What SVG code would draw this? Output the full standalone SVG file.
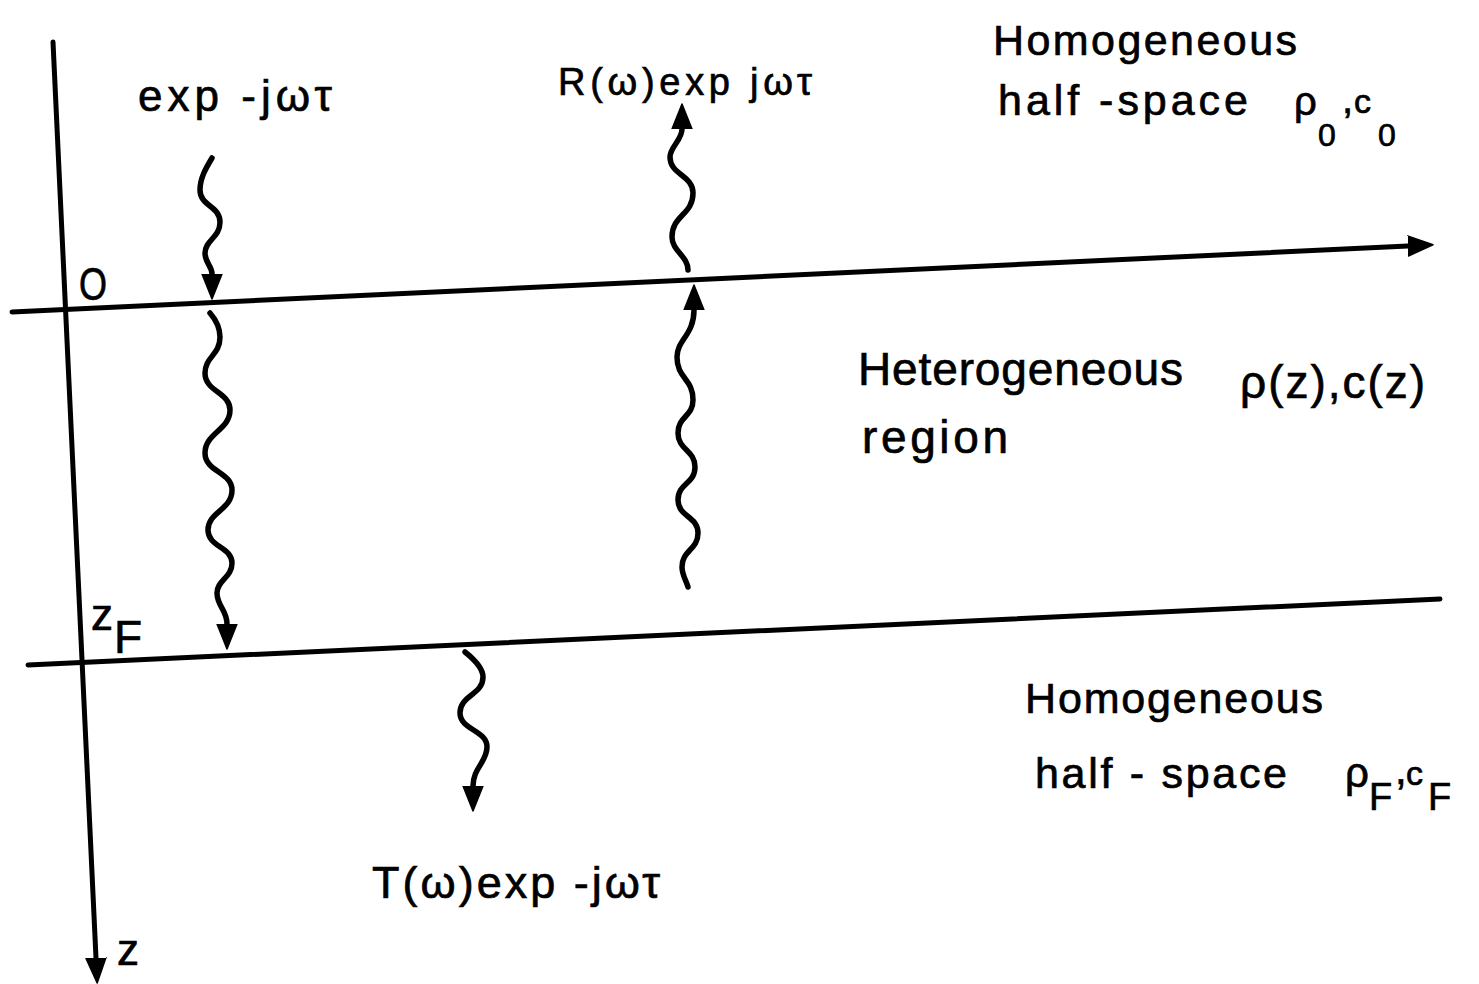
<svg xmlns="http://www.w3.org/2000/svg" width="1479" height="984" viewBox="0 0 1479 984">
  <style>
    .ln { fill: none; stroke: #000; stroke-width: 5; stroke-linecap: round; }
    .wv { fill: none; stroke: #000; stroke-width: 5.5; stroke-linecap: round; stroke-linejoin: round; }
    .t { font-family: "Liberation Sans", Arial, sans-serif; fill: #000; stroke: #000; stroke-width: 0.7; }
  </style>
  <defs>
    <marker id="head" markerUnits="userSpaceOnUse" viewBox="0 -11 26 22" refX="0" refY="0" markerWidth="26" markerHeight="22" orient="auto">
      <path d="M0,-10 L25,0 L0,10 Z" fill="#000" stroke="#000" stroke-width="1.5" stroke-linejoin="round"/>
    </marker>
  </defs>

  <rect width="1479" height="984" fill="#fff"/>

  <!-- axes and interfaces -->
  <g id="connectors">
    <path id="z-axis" class="ln" d="M53,42 L96,958" marker-end="url(#head)"/>
    <path id="interface-0" class="ln" d="M12,312 L1408,246" marker-end="url(#head)"/>
    <path id="interface-zF" class="ln" d="M28,665 L1440,599"/>

    <!-- incident wave above the layer -->
    <path class="wv" d="M212,158 C206,168 200,178 200,190 C200,206 220,206 220,222 C220,238 205,240 205,253 C205,263 212,266 212,274" marker-end="url(#head)"/>
    <!-- incident wave through the layer -->
    <path class="wv" d="M210,313 C216,320 220,328 220,337 C220,355 205,357 205,373 C205,392 230,392 230,410 C230,430 205,433 205,453 C205,472 232,472 232,490 C232,510 208,512 208,530 C208,547 232,547 232,563 C232,578 217,580 217,593 C217,606 227,610 227,624" marker-end="url(#head)"/>
    <!-- reflected wave inside the layer -->
    <path class="wv" d="M688,587 C686,580 682,575 682,567 C682,550 698,550 698,533 C698,516 678,517 678,500 C678,483 695,484 695,467 C695,450 678,450 678,433 C678,416 693,417 693,400 C693,378 677,379 677,357 C677,340 694,335 694,310" marker-end="url(#head)"/>
    <!-- reflected wave above the layer -->
    <path class="wv" d="M688,270 C688,256 672,251 672,237 C672,215 693,215 693,193 C693,175 670,175 670,157 C670,147 682,140 682,129" marker-end="url(#head)"/>
    <!-- transmitted wave -->
    <path class="wv" d="M465,652 C475,660 483,668 483,677 C483,695 460,695 460,713 C460,730 487,730 487,747 C487,762 473,768 473,786" marker-end="url(#head)"/>
  </g>

  <g id="label-incident">
    <text class="t" x="138" y="111" font-size="44" textLength="194" lengthAdjust="spacing">exp -jωτ</text>
  </g>
  <g id="label-reflected">
    <text class="t" x="558" y="95" font-size="38" textLength="254" lengthAdjust="spacing">R(ω)exp jωτ</text>
  </g>
  <g id="label-transmitted">
    <text class="t" x="372" y="898" font-size="45" textLength="288" lengthAdjust="spacing">T(ω)exp -jωτ</text>
  </g>

  <g id="upper-half-space">
    <text class="t" x="993" y="55" font-size="43" textLength="304" lengthAdjust="spacing">Homogeneous</text>
    <text class="t" x="998" y="115" font-size="43" textLength="250" lengthAdjust="spacing">half -space</text>
    <text class="t" font-size="40">
      <tspan x="1294" y="115">ρ</tspan><tspan x="1318" y="146" font-size="32">0</tspan><tspan x="1342" y="113">,</tspan><tspan x="1354" y="113" font-size="34">c</tspan><tspan x="1378" y="146" font-size="32">0</tspan>
    </text>
  </g>

  <g id="layer">
    <text class="t" x="858" y="385" font-size="46" textLength="325" lengthAdjust="spacing">Heterogeneous</text>
    <text class="t" x="862" y="453" font-size="46" textLength="146" lengthAdjust="spacing">region</text>
    <text class="t" x="1240" y="398" font-size="46" textLength="185" lengthAdjust="spacing">ρ(z),c(z)</text>
  </g>

  <g id="lower-half-space">
    <text class="t" x="1025" y="713" font-size="43" textLength="298" lengthAdjust="spacing">Homogeneous</text>
    <text class="t" x="1035" y="788" font-size="43" textLength="252" lengthAdjust="spacing">half - space</text>
    <text class="t" font-size="42">
      <tspan x="1345" y="787">ρ</tspan><tspan x="1369" y="810" font-size="38">F</tspan><tspan x="1395" y="784">,</tspan><tspan x="1406" y="785" font-size="34">c</tspan><tspan x="1428" y="810" font-size="38">F</tspan>
    </text>
  </g>

  <g id="axis-labels">
    <text class="t" x="79" y="300" font-size="46" textLength="28" lengthAdjust="spacingAndGlyphs">O</text>
    <text class="t" x="91" y="630" font-size="44">z</text>
    <text class="t" x="114" y="653" font-size="46">F</text>
    <text class="t" x="117" y="965" font-size="44">z</text>
  </g>
</svg>
